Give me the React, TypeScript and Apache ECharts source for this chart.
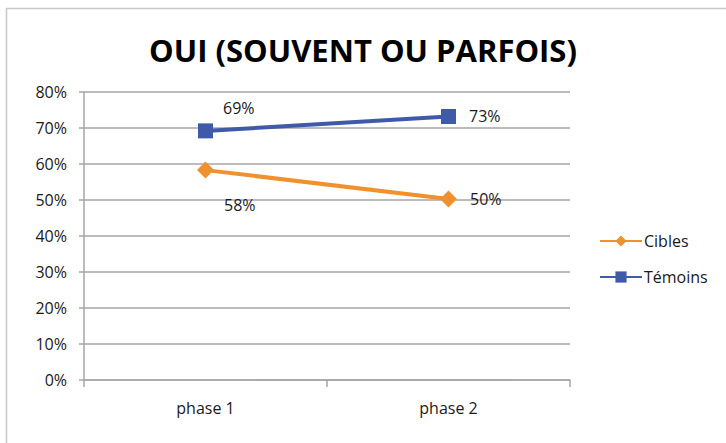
import React, { useEffect, useRef } from "react";
import * as echarts from "echarts";

const categories = ["phase 1", "phase 2"];
const cibles = [0.583, 0.503];
const temoins = [0.692, 0.732];
const yTicks = [0, 0.1, 0.2, 0.3, 0.4, 0.5, 0.6, 0.7, 0.8];
const titleText = "OUI (SOUVENT OU PARFOIS)";

const FONT = "Open Sans";

export default function App() {
  const ref = useRef<HTMLDivElement>(null);
  useEffect(() => {
    document.body.style.margin = "0";
    const chart = echarts.init(ref.current!, null, { renderer: "svg" });
    const pct = (v: number) => Math.round(v * 100) + "%";
    const labelBase = {
      show: true,
      position: "right" as const,
      distance: 13,
      color: "#1a1a1a",
      fontFamily: FONT,
      fontSize: 16,
      formatter: (p: any) => pct(p.value),
    };
    chart.setOption({
      animation: false,
      backgroundColor: "#ffffff",
      title: {
        text: titleText,
        left: "center",
        top: 29,
        textStyle: { fontFamily: FONT, fontWeight: "bold", fontSize: 31, color: "#000" },
      },
      graphic: [
        {
          type: "rect",
          shape: { x: 6.5, y: 8.5, width: 900, height: 600 },
          style: { fill: "none", stroke: "#c8c8c8", lineWidth: 1.5 },
          silent: true,
        },
      ],
      legend: {
        orient: "vertical",
        left: 594,
        top: 228,
        itemWidth: 42,
        itemHeight: 14,
        itemGap: 20,
        textStyle: { fontFamily: FONT, fontSize: 16, color: "#1a1a1a", padding: [0, 0, 0, -3] },
        data: ["Cibles", "Témoins"],
      },
      grid: { left: 84, right: 156, top: 92, bottom: 63 },
      xAxis: {
        type: "category",
        data: categories,
        boundaryGap: true,
        axisLine: { lineStyle: { color: "#a6a6a6", width: 1.5 } },
        axisTick: { show: true, length: 7, lineStyle: { color: "#a6a6a6", width: 1.5 } },
        axisLabel: { fontFamily: FONT, fontSize: 16, color: "#1a1a1a", margin: 20 },
      },
      yAxis: {
        type: "value",
        min: 0,
        max: 0.8,
        interval: 0.1,
        axisLine: { show: true, lineStyle: { color: "#a6a6a6", width: 1.5 } },
        axisTick: { show: true, length: 5, lineStyle: { color: "#a6a6a6", width: 1.5 } },
        splitLine: { lineStyle: { color: "#a6a6a6", width: 1.5 } },
        axisLabel: {
          fontFamily: FONT,
          fontSize: 16,
          color: "#1a1a1a",
          margin: 17,
          formatter: (v: number) => (yTicks.some((t) => Math.abs(t - v) < 1e-6) ? pct(v) : ""),
        },
      },
      series: [
        {
          name: "Cibles",
          type: "line",
          data: cibles.map((v, i) => ({
            value: v,
            label: i === 0 ? { ...labelBase, offset: [-3, 35] } : { ...labelBase },
          })),
          symbol: "diamond",
          symbolSize: 17,
          lineStyle: { color: "#F0912E", width: 4 },
          itemStyle: { color: "#F0912E" },
          label: labelBase,
        },
        {
          name: "Témoins",
          type: "line",
          data: temoins.map((v, i) => ({
            value: v,
            label: i === 0 ? { ...labelBase, offset: [-3, -23] } : { ...labelBase },
          })),
          symbol: "rect",
          symbolSize: 15,
          lineStyle: { color: "#3F5AA8", width: 4 },
          itemStyle: { color: "#3F5AA8" },
          label: labelBase,
        },
      ],
    });
    return () => chart.dispose();
  }, []);
  return <div ref={ref} style={{ width: 726, height: 443 }} />;
}
